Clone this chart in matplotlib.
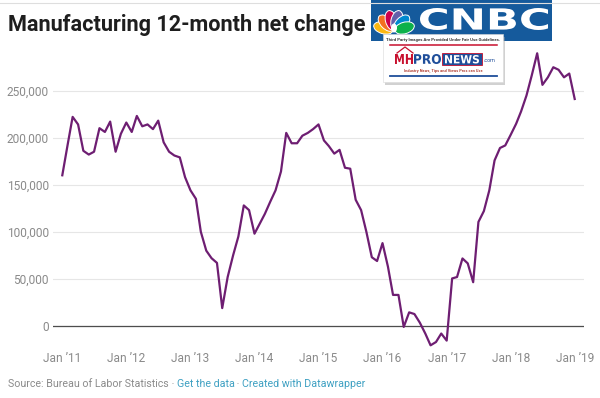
import math
import matplotlib
matplotlib.use("Agg")
import matplotlib.pyplot as plt
import matplotlib.patches as mpatches
from matplotlib.textpath import TextPath
from matplotlib.font_manager import FontProperties
from matplotlib.transforms import Affine2D
import pandas as pd

plt.rcParams['font.family'] = ['Roboto', 'DejaVu Sans']

# 12-month net change in manufacturing jobs, Jan 2011 .. Jan 2019
net_change = [
    160000, 193000, 222000, 214000, 186000, 182000, 185000, 210000, 206000, 217000, 185000, 204000,  # 2011
    216000, 206000, 223000, 212000, 214000, 209000, 218000, 195000, 185000, 181000, 179000, 158000,  # 2012
    144000, 135000, 100000, 80000, 72000, 67000, 19000, 52000, 75000, 95000, 128000, 123000,  # 2013
    98000, 109000, 119000, 132000, 144000, 164000, 205000, 194000, 194000, 202000, 205000, 209000,  # 2014
    214000, 197000, 191000, 183000, 187000, 168000, 167000, 134000, 123000, 100000, 73000, 69000,  # 2015
    88000, 63000, 33000, 33000, -1000, 14500, 12700, 3500, -8000, -20500, -17000, -8000,  # 2016
    -15500, 50500, 52000, 71700, 66500, 46500, 110500, 122000, 144000, 175800, 189000, 191700,  # 2017
    203000, 214700, 227700, 244700, 266000, 289500, 256000, 264000, 274700, 272000, 264000, 268000,  # 2018
    241000,  # Jan 2019
]
months = pd.date_range("2011-01-01", periods=len(net_change), freq="MS")

tick_years = list(range(2011, 2020))
tick_labels = ["Jan \u201911", "Jan \u201912", "Jan \u201913", "Jan \u201914", "Jan \u201915",
               "Jan \u201916", "Jan \u201917", "Jan \u201918", "Jan \u201919"]
y_ticks = [0, 50000, 100000, 150000, 200000, 250000]

title = "Manufacturing 12-month net change"
source = "Source: Bureau of Labor Statistics"
links = ["Get the data", "Created with Datawrapper"]

W, H = 600, 398
fig = plt.figure(figsize=(W / 100, H / 100), dpi=100)

# main chart area
ax = fig.add_axes([53 / W, 1 - 348 / H, (584 - 53) / W, (348 - 46) / H])
ax.plot(months, net_change, color='#6e1e72', lw=1.6, solid_joinstyle='round', zorder=3)
ax.set_xlim(pd.Timestamp("2010-11-09"), pd.Timestamp("2019-02-23"))
ax.set_ylim(-23350, 297250)

ax.set_yticks(y_ticks)
ax.set_yticklabels([f"{v:,}" for v in y_ticks])
ax.set_xticks(pd.to_datetime([f"{y}-01-01" for y in tick_years]))
ax.set_xticklabels(tick_labels)
ax.tick_params(axis='both', length=0, labelsize=8.6, labelcolor='#8a8a8a')
ax.tick_params(axis='y', pad=3)
ax.tick_params(axis='x', pad=3)
ax.grid(axis='y', color='#e6e6e6', lw=0.8)
ax.grid(axis='x', visible=False)
ax.axhline(0, color='#4d4d4d', lw=0.9, zorder=2)
for s in ax.spines.values():
    s.set_visible(False)
ax.set_axisbelow(True)

# title
fig.text(8 / W, 1 - 31.5 / H, title, fontsize=15.6, weight='bold', color='#1e1e1e', va='baseline')

# source line with links
fig.canvas.draw()
r = fig.canvas.get_renderer()
x = 8 / W
pieces = [(source, '#8a8a8a'), (" \u00b7 ", '#8a8a8a'), (links[0], '#3ea0c2'),
          (" \u00b7 ", '#8a8a8a'), (links[1], '#3ea0c2')]
for txt, col in pieces:
    t = fig.text(x, 1 - 387 / H, txt, fontsize=7.7, color=col, va='baseline')
    x += t.get_window_extent(r).width / W

# logo overlay, pixel coordinates with y going down
ov = fig.add_axes([0, 0, 1, 1], zorder=10)
ov.set_xlim(0, W)
ov.set_ylim(H, 0)
ov.axis('off')
ov.patch.set_visible(False)

ov.plot([0, W], [2.5, 2.5], color='#dedede', lw=0.8)


def fit_text(s, x0, x1, ybase, cap, color, weight='bold', family='DejaVu Sans'):
    tp = TextPath((0, 0), s, size=1, prop=FontProperties(family=family, weight=weight))
    bb = tp.get_extents()
    tr = Affine2D().translate(-bb.x0, -bb.y0).scale((x1 - x0) / bb.width, -cap / bb.height).translate(x0, ybase)
    ov.add_patch(mpatches.PathPatch(tr.transform_path(tp), fc=color, ec='none'))


# CNBC block
ov.add_patch(mpatches.Rectangle((371, 0), 181, 41, fc='#155a9c', ec='none'))
fit_text("CNBC", 420, 548, 30, 22, 'white', weight='heavy')
feather_cols = ['#fcb711', '#f37021', '#cc004c', '#6460aa', '#0089d0', '#0db14b']
cx, cy = 394, 31
for i, col in enumerate(feather_cols):
    ang = 196 + i * 29.6
    dx, dy = math.cos(math.radians(ang)), math.sin(math.radians(ang))
    ov.add_patch(mpatches.Ellipse((cx + 11 * dx, cy + 11 * dy), 20, 11.5, angle=ang,
                                  fc=col, ec='white', lw=0.7))
ov.add_patch(mpatches.Ellipse((cx, cy - 3), 6, 9, fc='white', ec='none'))

# MHPRONEWS box
ov.add_patch(mpatches.Rectangle((385, 37), 120, 48, fc='#9a9a9a', ec='none', alpha=0.45))
ov.add_patch(mpatches.Rectangle((383, 34), 120, 48, fc='white', ec='#d8d8d8', lw=0.4))
ov.text(443, 39.5, "Third Party Images Are Provided Under Fair Use Guidelines.", fontsize=3.1,
        weight='bold', color='#333333', ha='center', va='center')
ov.plot([390, 497], [44.5, 44.5], color='#c8102e', lw=1.1)
ov.plot([397, 405, 413], [53, 47, 53], color='#c8102e', lw=0.9)
fit_text("MH", 395, 413, 64, 10, '#c8102e')
fit_text("PRO", 414, 441, 64, 10, '#1f4e9a')
ov.add_patch(mpatches.Rectangle((442, 53), 40, 12, fc='#1f4e9a', ec='#c8102e', lw=0.6))
fit_text("NEWS", 445, 479, 63.5, 8.5, 'white')
ov.text(484, 62.5, ".com", fontsize=3.8, color='#1f4e9a', va='baseline')
ov.text(443, 70.5, "Industry News, Tips and Views Pros can Use", fontsize=2.8, weight='bold',
        color='#b03a2e', ha='center', va='center')
ov.plot([390, 497], [76, 76], color='#1f4e9a', lw=1.3)

fig.savefig("out.png", dpi=100)
